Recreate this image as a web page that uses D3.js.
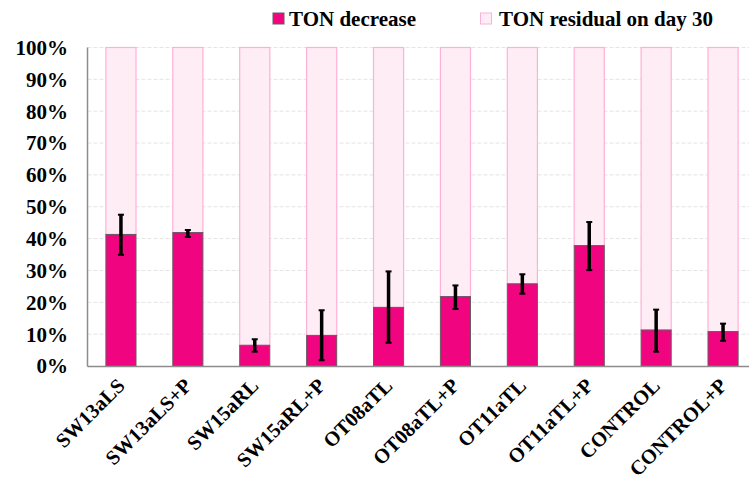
<!DOCTYPE html>
<html><head><meta charset="utf-8">
<script src="https://cdn.jsdelivr.net/npm/d3@7"></script>
<style>body{margin:0;background:#fff}svg{display:block}</style>
</head><body><svg id="c" width="749" height="479"></svg>
<script>
const categories = ["SW13aLS","SW13aLS+P","SW15aRL","SW15aRL+P","OT08aTL","OT08aTL+P","OT11aTL","OT11aTL+P","CONTROL","CONTROL+P"];
const decrease = [41.3, 41.9, 6.5, 9.6, 18.4, 21.8, 25.8, 37.8, 11.3, 10.8];
const errUp = [6.2, 0.8, 1.9, 7.9, 11.3, 3.5, 3.0, 7.4, 6.4, 2.5];
const errDown = [6.4, 1.4, 2.0, 7.8, 11.1, 3.9, 3.1, 7.7, 6.8, 2.9];
const yTicks = [0,10,20,30,40,50,60,70,80,90,100];
const seriesNames = ["TON decrease","TON residual on day 30"];

const FONT = "'Liberation Serif', 'Times New Roman', serif";
const svg = d3.select("#c");
const L = 87.5, R = 756.5, T = 47.5, B = 366;
const x = d3.scaleBand().domain(categories).range([L, R]).paddingInner(0.55).paddingOuter(0.275);
const y = d3.scaleLinear().domain([0,100]).range([B, T]);

svg.append("g").selectAll("line").data(yTicks.slice(1)).join("line")
  .attr("x1", L).attr("x2", 749).attr("y1", d => y(d)).attr("y2", d => y(d))
  .attr("stroke", "#e4e4e4").attr("stroke-dasharray", "4,2").attr("stroke-width", 1);

svg.append("g").selectAll("rect").data(categories).join("rect")
  .attr("x", d => x(d)).attr("width", x.bandwidth())
  .attr("y", y(100)).attr("height", (d,i) => y(decrease[i]) - y(100))
  .attr("fill", "#ffedf6").attr("stroke", "#ffb0d6").attr("stroke-width", 1.2);
svg.append("g").selectAll("rect").data(categories).join("rect")
  .attr("x", d => x(d)).attr("width", x.bandwidth())
  .attr("y", (d,i) => y(decrease[i])).attr("height", (d,i) => B - y(decrease[i]))
  .attr("fill", "#f0047f").attr("stroke", "#6a5a62").attr("stroke-width", 1);

const eg = svg.append("g");
categories.forEach((c,i) => {
  const cx = x(c) + x.bandwidth()/2;
  const y1 = y(decrease[i] + errUp[i]), y2 = y(decrease[i] - errDown[i]);
  eg.append("line").attr("x1", cx).attr("x2", cx).attr("y1", y1).attr("y2", y2)
    .attr("stroke", "#000").attr("stroke-width", 3.5);
  [y1, y2].forEach(yy => eg.append("line").attr("x1", cx-3).attr("x2", cx+3).attr("y1", yy).attr("y2", yy)
    .attr("stroke", "#000").attr("stroke-width", 2));
});

svg.append("line").attr("x1", L).attr("x2", L).attr("y1", T).attr("y2", B+0.5).attr("stroke", "#8c8c8c").attr("stroke-width", 1.5);
svg.append("line").attr("x1", L).attr("x2", 749).attr("y1", B+0.5).attr("y2", B+0.5).attr("stroke", "#8c8c8c").attr("stroke-width", 1.5);

svg.append("g").selectAll("text").data(yTicks).join("text")
  .attr("x", 68).attr("y", d => y(d)).attr("dy", "0.35em").attr("text-anchor", "end")
  .attr("font-family", FONT).attr("font-weight", "bold").attr("font-size", 21)
  .text(d => d + "%");

svg.append("g").selectAll("text").data(categories).join("text")
  .attr("transform", d => `translate(${x(d) + x.bandwidth()/2 + 5},${387}) rotate(-45)`)
  .attr("text-anchor", "end").attr("font-family", FONT).attr("font-weight", "bold").attr("font-size", 20.5)
  .text(d => d);

const leg = svg.append("g");
leg.append("rect").attr("x", 273).attr("y", 13).attr("width", 11).attr("height", 11).attr("fill", "#f0047f").attr("stroke", "#6a5a62");
leg.append("text").attr("x", 289).attr("y", 26).attr("font-family", FONT).attr("font-weight", "bold").attr("font-size", 21).text(seriesNames[0]);
leg.append("rect").attr("x", 480.5).attr("y", 13).attr("width", 11).attr("height", 11).attr("fill", "#ffedf6").attr("stroke", "#ffb0d6");
leg.append("text").attr("x", 499).attr("y", 26).attr("font-family", FONT).attr("font-weight", "bold").attr("font-size", 21).text(seriesNames[1]);
</script></body></html>
